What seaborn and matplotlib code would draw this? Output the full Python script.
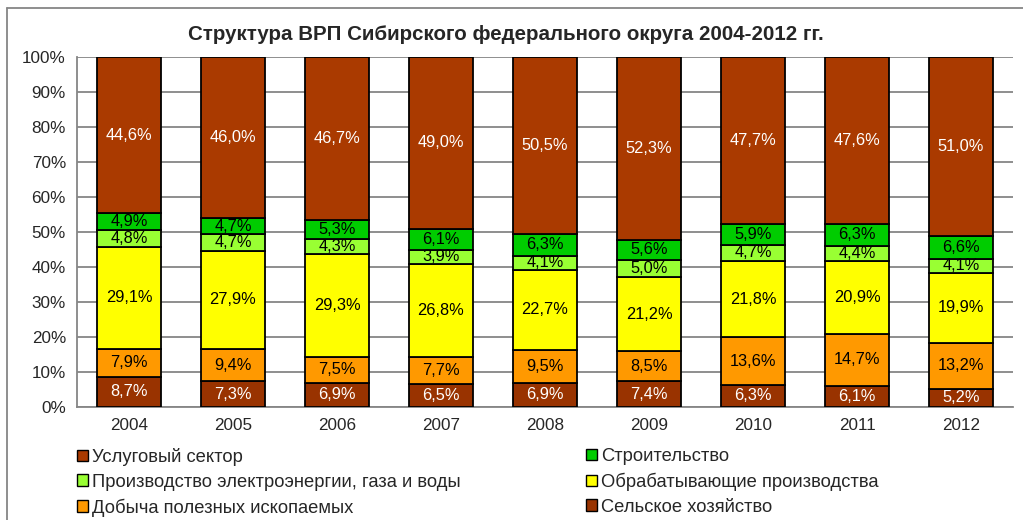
import numpy as np
import pandas as pd
import matplotlib
matplotlib.use("Agg")
import matplotlib.pyplot as plt
from matplotlib.patches import Patch
from matplotlib.lines import Line2D
import seaborn as sns

years = ["2004", "2005", "2006", "2007", "2008", "2009", "2010", "2011", "2012"]

# shares of GRP, %, bottom to top
agriculture = [8.7, 7.3, 6.9, 6.5, 6.9, 7.4, 6.3, 6.1, 5.2]
mining = [7.9, 9.4, 7.5, 7.7, 9.5, 8.5, 13.6, 14.7, 13.2]
manufacturing = [29.1, 27.9, 29.3, 26.8, 22.7, 21.2, 21.8, 20.9, 19.9]
energy = [4.8, 4.7, 4.3, 3.9, 4.1, 5.0, 4.7, 4.4, 4.1]
construction = [4.9, 4.7, 5.3, 6.1, 6.3, 5.6, 5.9, 6.3, 6.6]
services = [44.6, 46.0, 46.7, 49.0, 50.5, 52.3, 47.7, 47.6, 51.0]

names = ["Сельское хозяйство", "Добыча полезных ископаемых", "Обрабатывающие производства",
         "Производство электроэнергии, газа и воды", "Строительство", "Услуговый сектор"]
series = [agriculture, mining, manufacturing, energy, construction, services]
colors = ["#993300", "#FF9900", "#FFFF00", "#99FF33", "#00CC00", "#AA3A00"]
label_colors = ["white", "black", "black", "black", "black", "white"]

sns.set_style("white")
plt.rcParams["font.family"] = ["Liberation Sans", "DejaVu Sans"]

fig = plt.figure(figsize=(10.23, 5.2), dpi=100)
ax = fig.add_axes([77 / 1023, 113 / 520, 936 / 1023, 350 / 520])

bottom = np.zeros(len(years))
for name, vals, col, lc in zip(names, series, colors, label_colors):
    df = pd.DataFrame({"year": years, "share": vals})
    sns.barplot(data=df, x="year", y="share", color=col, width=0.62,
                edgecolor="black", linewidth=1.3, bottom=bottom.copy(),
                saturation=1, ax=ax, zorder=3)
    for i, v in enumerate(vals):
        ax.text(i, bottom[i] + v / 2, f"{v:.1f}%".replace(".", ","),
                ha="center", va="center", fontsize=11.8, color=lc, zorder=4)
    bottom += np.array(vals)

ax.set_ylim(0, 100)
ax.set_xlim(-0.5, len(years) - 0.5)
ax.set_yticks(np.arange(0, 101, 10))
ax.set_yticklabels([f"{t}%" for t in range(0, 101, 10)], fontsize=12.3)
ax.set_xticks(np.arange(len(years)))
ax.set_xticklabels(years, fontsize=12.3)
ax.set_xticks(np.arange(len(years) + 1) - 0.5, minor=True)
ax.tick_params(axis="x", which="major", length=0, pad=8)
ax.tick_params(axis="x", which="minor", length=5, color="#868686", width=1.3, direction="out")
ax.tick_params(axis="y", length=5, color="#868686", width=1.3, direction="out", pad=3)
ax.set_xlabel("")
ax.set_ylabel("")
ax.yaxis.grid(True, color="#868686", linewidth=1.3, zorder=0)
ax.set_axisbelow(True)
for s in ["top", "right"]:
    ax.spines[s].set_visible(False)
for s in ["left", "bottom"]:
    ax.spines[s].set_color("#868686")
    ax.spines[s].set_linewidth(1.3)

fig.text(506 / 1023, 1 - 35 / 520, "Структура ВРП Сибирского федерального округа 2004-2012 гг.",
         ha="center", va="center", fontsize=14.8, fontweight="bold")

# outer chart frame
fig.add_artist(Line2D([7 / 1023, 7 / 1023], [0, 1 - 8 / 520], color="#868686", lw=1.3))
fig.add_artist(Line2D([7 / 1023, 1], [1 - 8 / 520, 1 - 8 / 520], color="#868686", lw=1.3))

def handle(i):
    return Patch(facecolor=colors[i], edgecolor="black", linewidth=1)

leg_font = {"size": 13.2}
col1 = [5, 3, 1]
col2 = [4, 2, 0]
for idx, xpos in [(col1, 77 / 1023), (col2, 586 / 1023)]:
    fig.legend([handle(i) for i in idx], [names[i] for i in idx],
               loc="upper left", bbox_to_anchor=(xpos, 1 - 448 / 520),
               frameon=False, prop=leg_font, handlelength=0.6, handleheight=0.6,
               handletextpad=0.2, labelspacing=0.42, borderaxespad=0, borderpad=0)

fig.savefig("out.png", dpi=100)
